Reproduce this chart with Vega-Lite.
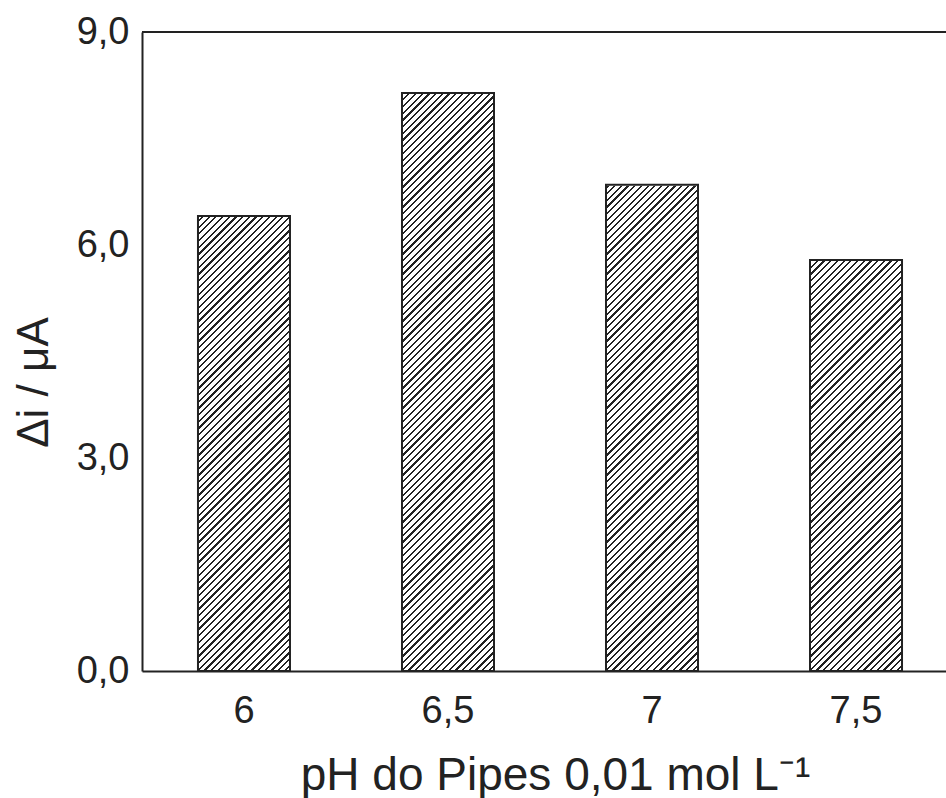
{
  "$schema": "https://vega.github.io/schema/vega-lite/v6.json",
  "width": 804,
  "height": 639,
  "autosize": {"type": "none"},
  "padding": {"left": 142, "top": 32, "right": 0, "bottom": 127},
  "background": "white",
  "config": {
    "view": {"stroke": null},
    "font": "Liberation Sans",
    "axis": {
      "domainColor": "#222",
      "domainWidth": 2,
      "ticks": false,
      "tickSize": 0,
      "grid": false,
      "labelFont": "Liberation Sans",
      "labelFontSize": 38,
      "labelColor": "#222",
      "titleFont": "Liberation Sans",
      "titleFontSize": 44,
      "titleFontWeight": "normal",
      "titleColor": "#222"
    }
  },
  "data": {
    "values": [
      {"pH": "6", "di": 6.41},
      {"pH": "6,5", "di": 8.14},
      {"pH": "7", "di": 6.85},
      {"pH": "7,5", "di": 5.79}
    ]
  },
  "encoding": {
    "x": {
      "field": "pH",
      "type": "nominal",
      "sort": null,
      "scale": {"paddingInner": 0.549, "paddingOuter": 0.245, "align": 0.56},
      "axis": {
        "labelAngle": 0,
        "labelPadding": 21,
        "title": "pH do Pipes 0,01 mol L⁻¹",
        "titleFontSize": 46,
        "titleX": 413,
        "titleY": 118,
        "titleAlign": "center",
        "titleBaseline": "alphabetic"
      }
    }
  },
  "layer": [
    {
      "mark": {
        "type": "bar",
        "stroke": null,
        "fill": {
          "gradient": "linear",
          "x1": 0, "y1": 0.0955, "x2": 0.1479, "y2": 1.1227,
          "stops": [
            {"offset":0,"color":"#fff"},{"offset":0,"color":"#222"},{"offset":0.0033,"color":"#222"},{"offset":0.0033,"color":"#fff"},
            {"offset":0.01,"color":"#fff"},{"offset":0.01,"color":"#222"},{"offset":0.0133,"color":"#222"},{"offset":0.0133,"color":"#fff"},
            {"offset":0.02,"color":"#fff"},{"offset":0.02,"color":"#222"},{"offset":0.0233,"color":"#222"},{"offset":0.0233,"color":"#fff"},
            {"offset":0.03,"color":"#fff"},{"offset":0.03,"color":"#222"},{"offset":0.0333,"color":"#222"},{"offset":0.0333,"color":"#fff"},
            {"offset":0.04,"color":"#fff"},{"offset":0.04,"color":"#222"},{"offset":0.0433,"color":"#222"},{"offset":0.0433,"color":"#fff"},
            {"offset":0.05,"color":"#fff"},{"offset":0.05,"color":"#222"},{"offset":0.0533,"color":"#222"},{"offset":0.0533,"color":"#fff"},
            {"offset":0.06,"color":"#fff"},{"offset":0.06,"color":"#222"},{"offset":0.0633,"color":"#222"},{"offset":0.0633,"color":"#fff"},
            {"offset":0.07,"color":"#fff"},{"offset":0.07,"color":"#222"},{"offset":0.0733,"color":"#222"},{"offset":0.0733,"color":"#fff"},
            {"offset":0.08,"color":"#fff"},{"offset":0.08,"color":"#222"},{"offset":0.0833,"color":"#222"},{"offset":0.0833,"color":"#fff"},
            {"offset":0.09,"color":"#fff"},{"offset":0.09,"color":"#222"},{"offset":0.0933,"color":"#222"},{"offset":0.0933,"color":"#fff"},
            {"offset":0.10,"color":"#fff"},{"offset":0.10,"color":"#222"},{"offset":0.1033,"color":"#222"},{"offset":0.1033,"color":"#fff"},
            {"offset":0.11,"color":"#fff"},{"offset":0.11,"color":"#222"},{"offset":0.1133,"color":"#222"},{"offset":0.1133,"color":"#fff"},
            {"offset":0.12,"color":"#fff"},{"offset":0.12,"color":"#222"},{"offset":0.1233,"color":"#222"},{"offset":0.1233,"color":"#fff"},
            {"offset":0.13,"color":"#fff"},{"offset":0.13,"color":"#222"},{"offset":0.1333,"color":"#222"},{"offset":0.1333,"color":"#fff"},
            {"offset":0.14,"color":"#fff"},{"offset":0.14,"color":"#222"},{"offset":0.1433,"color":"#222"},{"offset":0.1433,"color":"#fff"},
            {"offset":0.15,"color":"#fff"},{"offset":0.15,"color":"#222"},{"offset":0.1533,"color":"#222"},{"offset":0.1533,"color":"#fff"},
            {"offset":0.16,"color":"#fff"},{"offset":0.16,"color":"#222"},{"offset":0.1633,"color":"#222"},{"offset":0.1633,"color":"#fff"},
            {"offset":0.17,"color":"#fff"},{"offset":0.17,"color":"#222"},{"offset":0.1733,"color":"#222"},{"offset":0.1733,"color":"#fff"},
            {"offset":0.18,"color":"#fff"},{"offset":0.18,"color":"#222"},{"offset":0.1833,"color":"#222"},{"offset":0.1833,"color":"#fff"},
            {"offset":0.19,"color":"#fff"},{"offset":0.19,"color":"#222"},{"offset":0.1933,"color":"#222"},{"offset":0.1933,"color":"#fff"},
            {"offset":0.20,"color":"#fff"},{"offset":0.20,"color":"#222"},{"offset":0.2033,"color":"#222"},{"offset":0.2033,"color":"#fff"},
            {"offset":0.21,"color":"#fff"},{"offset":0.21,"color":"#222"},{"offset":0.2133,"color":"#222"},{"offset":0.2133,"color":"#fff"},
            {"offset":0.22,"color":"#fff"},{"offset":0.22,"color":"#222"},{"offset":0.2233,"color":"#222"},{"offset":0.2233,"color":"#fff"},
            {"offset":0.23,"color":"#fff"},{"offset":0.23,"color":"#222"},{"offset":0.2333,"color":"#222"},{"offset":0.2333,"color":"#fff"},
            {"offset":0.24,"color":"#fff"},{"offset":0.24,"color":"#222"},{"offset":0.2433,"color":"#222"},{"offset":0.2433,"color":"#fff"},
            {"offset":0.25,"color":"#fff"},{"offset":0.25,"color":"#222"},{"offset":0.2533,"color":"#222"},{"offset":0.2533,"color":"#fff"},
            {"offset":0.26,"color":"#fff"},{"offset":0.26,"color":"#222"},{"offset":0.2633,"color":"#222"},{"offset":0.2633,"color":"#fff"},
            {"offset":0.27,"color":"#fff"},{"offset":0.27,"color":"#222"},{"offset":0.2733,"color":"#222"},{"offset":0.2733,"color":"#fff"},
            {"offset":0.28,"color":"#fff"},{"offset":0.28,"color":"#222"},{"offset":0.2833,"color":"#222"},{"offset":0.2833,"color":"#fff"},
            {"offset":0.29,"color":"#fff"},{"offset":0.29,"color":"#222"},{"offset":0.2933,"color":"#222"},{"offset":0.2933,"color":"#fff"},
            {"offset":0.30,"color":"#fff"},{"offset":0.30,"color":"#222"},{"offset":0.3033,"color":"#222"},{"offset":0.3033,"color":"#fff"},
            {"offset":0.31,"color":"#fff"},{"offset":0.31,"color":"#222"},{"offset":0.3133,"color":"#222"},{"offset":0.3133,"color":"#fff"},
            {"offset":0.32,"color":"#fff"},{"offset":0.32,"color":"#222"},{"offset":0.3233,"color":"#222"},{"offset":0.3233,"color":"#fff"},
            {"offset":0.33,"color":"#fff"},{"offset":0.33,"color":"#222"},{"offset":0.3333,"color":"#222"},{"offset":0.3333,"color":"#fff"},
            {"offset":0.34,"color":"#fff"},{"offset":0.34,"color":"#222"},{"offset":0.3433,"color":"#222"},{"offset":0.3433,"color":"#fff"},
            {"offset":0.35,"color":"#fff"},{"offset":0.35,"color":"#222"},{"offset":0.3533,"color":"#222"},{"offset":0.3533,"color":"#fff"},
            {"offset":0.36,"color":"#fff"},{"offset":0.36,"color":"#222"},{"offset":0.3633,"color":"#222"},{"offset":0.3633,"color":"#fff"},
            {"offset":0.37,"color":"#fff"},{"offset":0.37,"color":"#222"},{"offset":0.3733,"color":"#222"},{"offset":0.3733,"color":"#fff"},
            {"offset":0.38,"color":"#fff"},{"offset":0.38,"color":"#222"},{"offset":0.3833,"color":"#222"},{"offset":0.3833,"color":"#fff"},
            {"offset":0.39,"color":"#fff"},{"offset":0.39,"color":"#222"},{"offset":0.3933,"color":"#222"},{"offset":0.3933,"color":"#fff"},
            {"offset":0.40,"color":"#fff"},{"offset":0.40,"color":"#222"},{"offset":0.4033,"color":"#222"},{"offset":0.4033,"color":"#fff"},
            {"offset":0.41,"color":"#fff"},{"offset":0.41,"color":"#222"},{"offset":0.4133,"color":"#222"},{"offset":0.4133,"color":"#fff"},
            {"offset":0.42,"color":"#fff"},{"offset":0.42,"color":"#222"},{"offset":0.4233,"color":"#222"},{"offset":0.4233,"color":"#fff"},
            {"offset":0.43,"color":"#fff"},{"offset":0.43,"color":"#222"},{"offset":0.4333,"color":"#222"},{"offset":0.4333,"color":"#fff"},
            {"offset":0.44,"color":"#fff"},{"offset":0.44,"color":"#222"},{"offset":0.4433,"color":"#222"},{"offset":0.4433,"color":"#fff"},
            {"offset":0.45,"color":"#fff"},{"offset":0.45,"color":"#222"},{"offset":0.4533,"color":"#222"},{"offset":0.4533,"color":"#fff"},
            {"offset":0.46,"color":"#fff"},{"offset":0.46,"color":"#222"},{"offset":0.4633,"color":"#222"},{"offset":0.4633,"color":"#fff"},
            {"offset":0.47,"color":"#fff"},{"offset":0.47,"color":"#222"},{"offset":0.4733,"color":"#222"},{"offset":0.4733,"color":"#fff"},
            {"offset":0.48,"color":"#fff"},{"offset":0.48,"color":"#222"},{"offset":0.4833,"color":"#222"},{"offset":0.4833,"color":"#fff"},
            {"offset":0.49,"color":"#fff"},{"offset":0.49,"color":"#222"},{"offset":0.4933,"color":"#222"},{"offset":0.4933,"color":"#fff"},
            {"offset":0.50,"color":"#fff"},{"offset":0.50,"color":"#222"},{"offset":0.5033,"color":"#222"},{"offset":0.5033,"color":"#fff"},
            {"offset":0.51,"color":"#fff"},{"offset":0.51,"color":"#222"},{"offset":0.5133,"color":"#222"},{"offset":0.5133,"color":"#fff"},
            {"offset":0.52,"color":"#fff"},{"offset":0.52,"color":"#222"},{"offset":0.5233,"color":"#222"},{"offset":0.5233,"color":"#fff"},
            {"offset":0.53,"color":"#fff"},{"offset":0.53,"color":"#222"},{"offset":0.5333,"color":"#222"},{"offset":0.5333,"color":"#fff"},
            {"offset":0.54,"color":"#fff"},{"offset":0.54,"color":"#222"},{"offset":0.5433,"color":"#222"},{"offset":0.5433,"color":"#fff"},
            {"offset":0.55,"color":"#fff"},{"offset":0.55,"color":"#222"},{"offset":0.5533,"color":"#222"},{"offset":0.5533,"color":"#fff"},
            {"offset":0.56,"color":"#fff"},{"offset":0.56,"color":"#222"},{"offset":0.5633,"color":"#222"},{"offset":0.5633,"color":"#fff"},
            {"offset":0.57,"color":"#fff"},{"offset":0.57,"color":"#222"},{"offset":0.5733,"color":"#222"},{"offset":0.5733,"color":"#fff"},
            {"offset":0.58,"color":"#fff"},{"offset":0.58,"color":"#222"},{"offset":0.5833,"color":"#222"},{"offset":0.5833,"color":"#fff"},
            {"offset":0.59,"color":"#fff"},{"offset":0.59,"color":"#222"},{"offset":0.5933,"color":"#222"},{"offset":0.5933,"color":"#fff"},
            {"offset":0.60,"color":"#fff"},{"offset":0.60,"color":"#222"},{"offset":0.6033,"color":"#222"},{"offset":0.6033,"color":"#fff"},
            {"offset":0.61,"color":"#fff"},{"offset":0.61,"color":"#222"},{"offset":0.6133,"color":"#222"},{"offset":0.6133,"color":"#fff"},
            {"offset":0.62,"color":"#fff"},{"offset":0.62,"color":"#222"},{"offset":0.6233,"color":"#222"},{"offset":0.6233,"color":"#fff"},
            {"offset":0.63,"color":"#fff"},{"offset":0.63,"color":"#222"},{"offset":0.6333,"color":"#222"},{"offset":0.6333,"color":"#fff"},
            {"offset":0.64,"color":"#fff"},{"offset":0.64,"color":"#222"},{"offset":0.6433,"color":"#222"},{"offset":0.6433,"color":"#fff"},
            {"offset":0.65,"color":"#fff"},{"offset":0.65,"color":"#222"},{"offset":0.6533,"color":"#222"},{"offset":0.6533,"color":"#fff"},
            {"offset":0.66,"color":"#fff"},{"offset":0.66,"color":"#222"},{"offset":0.6633,"color":"#222"},{"offset":0.6633,"color":"#fff"},
            {"offset":0.67,"color":"#fff"},{"offset":0.67,"color":"#222"},{"offset":0.6733,"color":"#222"},{"offset":0.6733,"color":"#fff"},
            {"offset":0.68,"color":"#fff"},{"offset":0.68,"color":"#222"},{"offset":0.6833,"color":"#222"},{"offset":0.6833,"color":"#fff"},
            {"offset":0.69,"color":"#fff"},{"offset":0.69,"color":"#222"},{"offset":0.6933,"color":"#222"},{"offset":0.6933,"color":"#fff"},
            {"offset":0.70,"color":"#fff"},{"offset":0.70,"color":"#222"},{"offset":0.7033,"color":"#222"},{"offset":0.7033,"color":"#fff"},
            {"offset":0.71,"color":"#fff"},{"offset":0.71,"color":"#222"},{"offset":0.7133,"color":"#222"},{"offset":0.7133,"color":"#fff"},
            {"offset":0.72,"color":"#fff"},{"offset":0.72,"color":"#222"},{"offset":0.7233,"color":"#222"},{"offset":0.7233,"color":"#fff"},
            {"offset":0.73,"color":"#fff"},{"offset":0.73,"color":"#222"},{"offset":0.7333,"color":"#222"},{"offset":0.7333,"color":"#fff"},
            {"offset":0.74,"color":"#fff"},{"offset":0.74,"color":"#222"},{"offset":0.7433,"color":"#222"},{"offset":0.7433,"color":"#fff"},
            {"offset":0.75,"color":"#fff"},{"offset":0.75,"color":"#222"},{"offset":0.7533,"color":"#222"},{"offset":0.7533,"color":"#fff"},
            {"offset":0.76,"color":"#fff"},{"offset":0.76,"color":"#222"},{"offset":0.7633,"color":"#222"},{"offset":0.7633,"color":"#fff"},
            {"offset":0.77,"color":"#fff"},{"offset":0.77,"color":"#222"},{"offset":0.7733,"color":"#222"},{"offset":0.7733,"color":"#fff"},
            {"offset":0.78,"color":"#fff"},{"offset":0.78,"color":"#222"},{"offset":0.7833,"color":"#222"},{"offset":0.7833,"color":"#fff"},
            {"offset":0.79,"color":"#fff"},{"offset":0.79,"color":"#222"},{"offset":0.7933,"color":"#222"},{"offset":0.7933,"color":"#fff"},
            {"offset":0.80,"color":"#fff"},{"offset":0.80,"color":"#222"},{"offset":0.8033,"color":"#222"},{"offset":0.8033,"color":"#fff"},
            {"offset":0.81,"color":"#fff"},{"offset":0.81,"color":"#222"},{"offset":0.8133,"color":"#222"},{"offset":0.8133,"color":"#fff"},
            {"offset":0.82,"color":"#fff"},{"offset":0.82,"color":"#222"},{"offset":0.8233,"color":"#222"},{"offset":0.8233,"color":"#fff"},
            {"offset":0.83,"color":"#fff"},{"offset":0.83,"color":"#222"},{"offset":0.8333,"color":"#222"},{"offset":0.8333,"color":"#fff"},
            {"offset":0.84,"color":"#fff"},{"offset":0.84,"color":"#222"},{"offset":0.8433,"color":"#222"},{"offset":0.8433,"color":"#fff"},
            {"offset":0.85,"color":"#fff"},{"offset":0.85,"color":"#222"},{"offset":0.8533,"color":"#222"},{"offset":0.8533,"color":"#fff"},
            {"offset":0.86,"color":"#fff"},{"offset":0.86,"color":"#222"},{"offset":0.8633,"color":"#222"},{"offset":0.8633,"color":"#fff"},
            {"offset":0.87,"color":"#fff"},{"offset":0.87,"color":"#222"},{"offset":0.8733,"color":"#222"},{"offset":0.8733,"color":"#fff"},
            {"offset":0.88,"color":"#fff"},{"offset":0.88,"color":"#222"},{"offset":0.8833,"color":"#222"},{"offset":0.8833,"color":"#fff"},
            {"offset":0.89,"color":"#fff"},{"offset":0.89,"color":"#222"},{"offset":0.8933,"color":"#222"},{"offset":0.8933,"color":"#fff"},
            {"offset":0.90,"color":"#fff"},{"offset":0.90,"color":"#222"},{"offset":0.9033,"color":"#222"},{"offset":0.9033,"color":"#fff"},
            {"offset":0.91,"color":"#fff"},{"offset":0.91,"color":"#222"},{"offset":0.9133,"color":"#222"},{"offset":0.9133,"color":"#fff"},
            {"offset":0.92,"color":"#fff"},{"offset":0.92,"color":"#222"},{"offset":0.9233,"color":"#222"},{"offset":0.9233,"color":"#fff"},
            {"offset":0.93,"color":"#fff"},{"offset":0.93,"color":"#222"},{"offset":0.9333,"color":"#222"},{"offset":0.9333,"color":"#fff"},
            {"offset":0.94,"color":"#fff"},{"offset":0.94,"color":"#222"},{"offset":0.9433,"color":"#222"},{"offset":0.9433,"color":"#fff"},
            {"offset":0.95,"color":"#fff"},{"offset":0.95,"color":"#222"},{"offset":0.9533,"color":"#222"},{"offset":0.9533,"color":"#fff"},
            {"offset":0.96,"color":"#fff"},{"offset":0.96,"color":"#222"},{"offset":0.9633,"color":"#222"},{"offset":0.9633,"color":"#fff"},
            {"offset":0.97,"color":"#fff"},{"offset":0.97,"color":"#222"},{"offset":0.9733,"color":"#222"},{"offset":0.9733,"color":"#fff"},
            {"offset":0.98,"color":"#fff"},{"offset":0.98,"color":"#222"},{"offset":0.9833,"color":"#222"},{"offset":0.9833,"color":"#fff"},
            {"offset":0.99,"color":"#fff"},{"offset":0.99,"color":"#222"},{"offset":0.9933,"color":"#222"},{"offset":0.9933,"color":"#fff"},
            {"offset":1,"color":"#fff"}
          ]
        }
      },
      "encoding": {
        "y": {"datum": 0, "type": "quantitative", "scale": {"domain": [0, 9], "nice": false}},
        "y2": {"datum": 9}
      }
    },
    {
      "mark": {"type": "bar", "fill": "white", "stroke": "white", "strokeWidth": 2},
      "encoding": {
        "y": {"field": "di", "type": "quantitative"},
        "y2": {"datum": 9}
      }
    },
    {
      "mark": {"type": "bar", "fillOpacity": 0, "stroke": "#222", "strokeWidth": 2},
      "encoding": {
        "y": {
          "field": "di",
          "type": "quantitative",
          "scale": {"domain": [0, 9], "nice": false},
          "axis": {
            "values": [0, 3, 6, 9],
            "labelExpr": "replace(format(datum.value, '.1f'), '.', ',')",
            "labelPadding": 13,
            "title": "Δi / μA",
            "titleAngle": -90,
            "titleX": -95,
            "titleY": 350,
            "titleAlign": "center",
            "titleBaseline": "alphabetic"
          }
        }
      }
    },
    {
      "mark": {"type": "rule", "stroke": "#222", "strokeWidth": 2},
      "encoding": {"x": null, "y": {"datum": 9}}
    }
  ]
}
